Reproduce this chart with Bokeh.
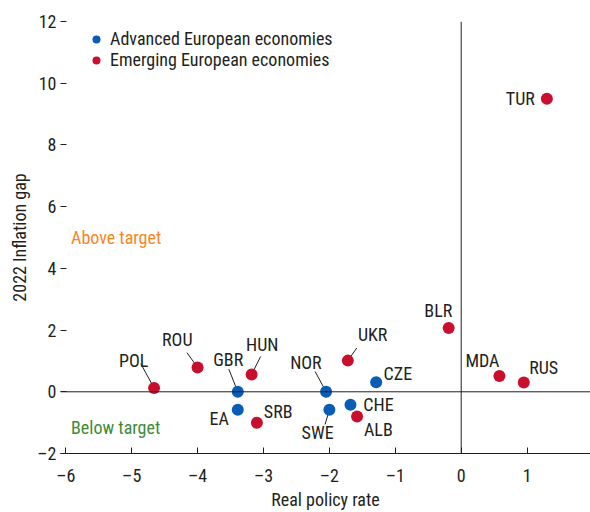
from bokeh.plotting import figure
from bokeh.models import ColumnDataSource, Span, Legend, LegendItem, FixedTicker, Label
from bokeh.core.properties import value
from bokeh.embed import file_html
from bokeh.resources import INLINE

# ---------------- data ----------------
adv_names = ["CZE", "NOR", "SWE", "CHE", "GBR", "EA"]
adv_rate = [-1.29, -2.05, -2.00, -1.68, -3.39, -3.39]
adv_gap = [0.31, 0.00, -0.58, -0.42, 0.00, -0.58]

emg_names = ["TUR", "BLR", "MDA", "RUS", "UKR", "ALB", "HUN", "SRB", "ROU", "POL"]
emg_rate = [1.30, -0.19, 0.58, 0.95, -1.72, -1.58, -3.18, -3.10, -4.00, -4.66]
emg_gap = [9.50, 2.07, 0.51, 0.30, 1.01, -0.80, 0.56, -1.00, 0.79, 0.12]

x_ticks = [-6, -5, -4, -3, -2, -1, 0, 1, 2]
y_ticks = [-2, 0, 2, 4, 6, 8, 10, 12]

# ---------------- layout / style ----------------
FONT = "Roboto Condensed, Roboto"
FS = "18px"
BLUE = "#0a5db4"
RED = "#c8102e"
INK = "#231f20"

X0, X1 = -6.08, 1.962
Y0, Y1 = -2, 12
FW, FH = 530, 432
BL, BR, BT, BB = 60, 0, 21, 59

xs = FW / (X1 - X0)
ys = FH / (Y1 - Y0)

# label offsets in screen px (dx right, dy down) relative to the point
label_off = {
    "TUR": (-26.5, 0), "BLR": (-10.4, -17), "MDA": (-17, -15.7), "RUS": (19.9, -15.3),
    "CZE": (21.7, -8.7), "UKR": (24.8, -25.7), "NOR": (-20.2, -29), "SWE": (-11.8, 22.9),
    "CHE": (28, 0), "ALB": (21.3, 12.7), "GBR": (-9.6, -32), "EA": (-18.5, 9),
    "HUN": (10.6, -30.3), "SRB": (21.3, -10.8), "ROU": (-20.3, -28), "POL": (-20.5, -27.7),
}
# leader line start offsets in screen px (end is the point itself)
leader_off = {
    "POL": (-13.3, -24.4), "ROU": (-10.6, -14.7), "GBR": (-9, -22.7), "HUN": (9, -18),
    "NOR": (-11, -20.3), "UKR": (9, -12.7), "SWE": (-4.3, 14.7),
}

p = figure(width=BL + FW + BR, height=BT + FH + BB, x_range=(X0, X1), y_range=(Y0, Y1),
           output_backend="svg", toolbar_location=None,
           min_border_left=BL, min_border_right=BR, min_border_top=BT, min_border_bottom=BB)
p.outline_line_color = None
p.grid.visible = False
p.background_fill_color = "white"
p.border_fill_color = "white"

# axes
p.xaxis.ticker = FixedTicker(ticks=x_ticks)
p.yaxis.ticker = FixedTicker(ticks=y_ticks)
p.xaxis.major_label_overrides = {t: str(t).replace("-", "\u2013") for t in x_ticks}
p.yaxis.major_label_overrides = {t: str(t).replace("-", "\u2013") for t in y_ticks}
for ax in (p.xaxis[0], p.yaxis[0]):
    ax.minor_tick_line_color = None
    ax.major_label_text_font = FONT
    ax.major_label_text_font_size = FS
    ax.major_label_text_color = INK
    ax.axis_label_text_font = FONT
    ax.axis_label_text_font_size = FS
    ax.axis_label_text_font_style = "normal"
    ax.axis_label_text_color = INK
    ax.major_tick_line_color = INK
p.xaxis.axis_line_color = INK
p.xaxis.major_tick_in = 6
p.xaxis.major_tick_out = 0
p.xaxis.major_label_standoff = 11
p.xaxis.axis_label = "Real policy rate"
p.xaxis.axis_label_standoff = 0
p.yaxis.axis_line_color = None
p.yaxis.major_tick_in = 6
p.yaxis.major_tick_out = 0
p.yaxis.major_label_standoff = 4
p.yaxis.axis_label = "2022 Inflation gap"
p.yaxis.axis_label_standoff = 4

# zero lines
p.add_layout(Span(location=0, dimension="width", line_color=INK, line_width=1))
p.add_layout(Span(location=0, dimension="height", line_color=INK, line_width=1))

# leader lines
names_all = adv_names + emg_names
rate_all = adv_rate + emg_rate
gap_all = adv_gap + emg_gap
pos = {n: (x, y) for n, x, y in zip(names_all, rate_all, gap_all)}
lx0, ly0, lx1, ly1 = [], [], [], []
for n, (dx, dy) in leader_off.items():
    x, y = pos[n]
    lx0.append(x + dx / xs)
    ly0.append(y - dy / ys)
    lx1.append(x)
    ly1.append(y)
p.segment(x0=lx0, y0=ly0, x1=lx1, y1=ly1, line_color=INK, line_width=1)

# points
adv_src = ColumnDataSource(dict(x=adv_rate, y=adv_gap, name=adv_names))
emg_src = ColumnDataSource(dict(x=emg_rate, y=emg_gap, name=emg_names))
r_adv = p.scatter("x", "y", source=adv_src, size=12, fill_color=BLUE, line_color=None)
r_emg = p.scatter("x", "y", source=emg_src, size=12, fill_color=RED, line_color=None)

# labels
lab_src = ColumnDataSource(dict(
    x=rate_all, y=gap_all, t=names_all,
    xo=[label_off[n][0] for n in names_all],
    yo=[label_off[n][1] for n in names_all],
))
p.text("x", "y", text="t", source=lab_src, x_offset="xo", y_offset="yo",
       text_align="center", text_baseline="middle", text_font=value(FONT),
       text_font_size=FS, text_color=INK)

# region annotations
p.add_layout(Label(x=-5.92, y=5.0, text="Above target", text_font=FONT, text_font_size=FS,
                   text_color="#f7861e", text_baseline="middle", text_align="left"))
p.add_layout(Label(x=-5.92, y=-1.15, text="Below target", text_font=FONT, text_font_size=FS,
                   text_color="#3d8b37", text_baseline="middle", text_align="left"))

# legend
legend = Legend(items=[LegendItem(label="Advanced European economies", renderers=[r_adv]),
                       LegendItem(label="Emerging European economies", renderers=[r_emg])],
                location=(26, FH - 49), orientation="vertical",
                glyph_width=20, glyph_height=20, label_height=20, spacing=0, padding=4, margin=0,
                label_standoff=4, label_text_font=FONT, label_text_font_size=FS,
                label_text_color=INK, border_line_color=None, background_fill_alpha=0)
p.add_layout(legend)

open("out.html", "w").write(file_html(p, INLINE))
